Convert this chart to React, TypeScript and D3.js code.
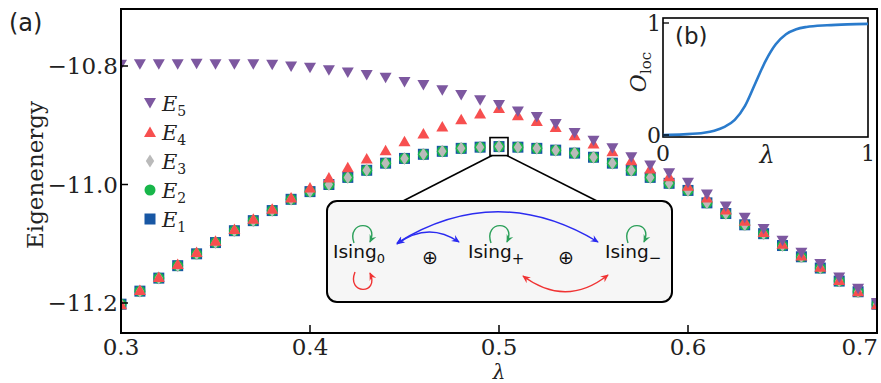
import React from 'react';
import * as d3 from 'd3';

// lambda grid of the spectrum, panel (a)
const lambdas = [
  0.30, 0.31, 0.32, 0.33, 0.34, 0.35, 0.36, 0.37, 0.38, 0.39, 0.40,
  0.41, 0.42, 0.43, 0.44, 0.45, 0.46, 0.47, 0.48, 0.49, 0.50,
  0.51, 0.52, 0.53, 0.54, 0.55, 0.56, 0.57, 0.58, 0.59, 0.60,
  0.61, 0.62, 0.63, 0.64, 0.65, 0.66, 0.67, 0.68, 0.69, 0.70
];

const E5 = [
  -10.798, -10.797, -10.797, -10.797, -10.796, -10.797, -10.797, -10.797, -10.798, -10.801, -10.803,
  -10.807, -10.811, -10.815, -10.820, -10.827, -10.832, -10.841, -10.849, -10.858, -10.866,
  -10.877, -10.886, -10.898, -10.913, -10.926, -10.939, -10.954, -10.968, -10.981, -10.997,
  -11.017, -11.037, -11.056, -11.075, -11.095, -11.115, -11.134, -11.157, -11.176, -11.200
];

const E4 = [
  -11.202, -11.178, -11.156, -11.134, -11.114, -11.095, -11.075, -11.058, -11.041, -11.022, -11.005,
  -10.988, -10.971, -10.956, -10.942, -10.927, -10.914, -10.902, -10.890, -10.880, -10.871,
  -10.883, -10.893, -10.903, -10.917, -10.931, -10.944, -10.959, -10.973, -10.986, -11.002,
  -11.022, -11.042, -11.061, -11.080, -11.100, -11.120, -11.139, -11.161, -11.180, -11.202
];

const E3 = [
  -11.202, -11.180, -11.158, -11.137, -11.117, -11.098, -11.078, -11.061, -11.044, -11.025, -11.012,
  -11.000, -10.988, -10.976, -10.964, -10.956, -10.949, -10.944, -10.939, -10.937, -10.936,
  -10.937, -10.939, -10.942, -10.947, -10.954, -10.964, -10.976, -10.988, -10.998, -11.010,
  -11.031, -11.049, -11.068, -11.083, -11.103, -11.122, -11.141, -11.163, -11.181, -11.202
];
// E1, E2 and E3 are degenerate on this scale
const E2 = E3;
const E1 = E3;

const xTicks = [0.3, 0.4, 0.5, 0.6, 0.7];
const yTicks = [-10.8, -11.0, -11.2];

// panel (b)
const insetLambda = [0, 0.1, 0.2, 0.25, 0.3, 0.35, 0.4, 0.45, 0.5, 0.55, 0.6, 0.65, 0.7, 0.8, 0.9, 1.0];
const insetOloc = [0, 0.006, 0.02, 0.038, 0.072, 0.135, 0.26, 0.46, 0.66, 0.81, 0.9, 0.945, 0.965, 0.98, 0.988, 0.992];

const serif = 'DejaVu Serif';
const sans = 'DejaVu Sans';

const series = [
  {name: '1', values: E1, shape: 'square', color: '#1857a4'},
  {name: '2', values: E2, shape: 'circle', color: '#18b64a'},
  {name: '3', values: E3, shape: 'diamond', color: '#bababa'},
  {name: '4', values: E4, shape: 'up', color: '#f74f4f'},
  {name: '5', values: E5, shape: 'down', color: '#7d58a0'}
];

function Marker({shape, cx, cy, color}) {
  switch (shape) {
    case 'square':
      return <rect x={cx - 5.5} y={cy - 5.5} width={11} height={11} fill={color} />;
    case 'circle':
      return <circle cx={cx} cy={cy} r={5.5} fill={color} />;
    case 'diamond':
      return <polygon points={`${cx},${cy - 6.5} ${cx + 4.2},${cy} ${cx},${cy + 6.5} ${cx - 4.2},${cy}`} fill={color} />;
    case 'up':
      return <polygon points={`${cx},${cy - 5.5} ${cx + 6},${cy + 5} ${cx - 6},${cy + 5}`} fill={color} />;
    default:
      return <polygon points={`${cx},${cy + 5.5} ${cx + 6},${cy - 5} ${cx - 6},${cy - 5}`} fill={color} />;
  }
}

export default function App() {
  const width = 881;
  const height = 383;
  const left = 121, right = 877, top = 9, bottom = 333;

  const x = d3.scaleLinear().domain([0.3, 0.7]).range([left, right]);
  const y = d3.scaleLinear().domain([-10.8, -11.2]).range([66, 303]);
  const fmtX = d3.format('.1f');
  const fmtY = d3.format('.1f');

  // inset
  const ix = d3.scaleLinear().domain([0, 1]).range([663, 868]);
  const iy = d3.scaleLinear().domain([0, 1]).range([135, 23]);
  const insetLine = d3.line<number>()
    .x((d, i) => ix(insetLambda[i]))
    .y(d => iy(d))
    .curve(d3.curveMonotoneX);

  // zoom square around the lambda = 0.5 point
  const zx = x(0.5);
  const zy = y(E3[lambdas.indexOf(0.5)]);

  const legendY = [103, 132, 161, 190, 219];
  const legendOrder = [...series].reverse();

  const green = '#2ca05a';
  const red = '#f03333';
  const blue = '#2b2bf0';

  return (
    <svg width={width} height={height} style={{position: 'absolute', left: 0, top: 0, background: '#fff'}}>
      <defs>
        <clipPath id="plotClip">
          <rect x={left} y={top} width={right - left} height={bottom - top} />
        </clipPath>
        {[['g', green], ['r', red], ['b', blue]].map(([id, c]) => (
          <marker key={id} id={'arr-' + id} viewBox="0 0 10 10" refX="8" refY="5" markerWidth="9" markerHeight="9"
            markerUnits="userSpaceOnUse" orient="auto-start-reverse">
            <path d="M0,1 L9,5 L0,9 L3,5 Z" fill={c} />
          </marker>
        ))}
      </defs>

      {/* panel (a) data */}
      <g clipPath="url(#plotClip)">
        {series.map(s => (
          <g key={s.name}>
            {s.values.map((v, i) => (
              <Marker key={i} shape={s.shape} cx={x(lambdas[i])} cy={y(v)} color={s.color} />
            ))}
          </g>
        ))}
      </g>

      {/* axes frame */}
      <rect x={left} y={top} width={right - left} height={bottom - top} fill="none" stroke="#000" strokeWidth={2} />
      {xTicks.map(t => (
        <g key={t}>
          <line x1={x(t)} x2={x(t)} y1={bottom} y2={bottom - 8} stroke="#000" strokeWidth={1.5} />
          <text x={t === 0.7 ? x(t) + 1 : x(t)} y={355} textAnchor={t === 0.7 ? 'end' : 'middle'}
            fontFamily={serif} fontSize={23} fill="#222">{fmtX(t)}</text>
        </g>
      ))}
      {yTicks.map(t => (
        <g key={t}>
          <line x1={left} x2={left + 7} y1={y(t)} y2={y(t)} stroke="#000" strokeWidth={1.5} />
          <text x={left - 3} y={y(t)} dy="0.36em" textAnchor="end" fontFamily={serif} fontSize={23} fill="#222">{fmtY(t)}</text>
        </g>
      ))}
      <text transform="translate(43,175) rotate(-90)" textAnchor="middle" fontFamily={serif} fontSize={23} fill="#222">Eigenenergy</text>
      <text x={(left + right) / 2} y={378.5} textAnchor="middle" fontFamily={serif} fontStyle="italic" fontSize={20} fill="#222">λ</text>
      <text x={9} y={31} fontFamily={sans} fontSize={24} fill="#222">(a)</text>

      {/* legend */}
      {legendOrder.map((s, i) => (
        <g key={s.name}>
          <Marker shape={s.shape} cx={150} cy={legendY[i]} color={s.color} />
          <text x={162} y={legendY[i] + 8} fontFamily={serif} fontSize={21} fill="#222">
            <tspan fontStyle="italic">E</tspan>
            <tspan fontSize={14} dy={5}>{s.name}</tspan>
          </text>
        </g>
      ))}

      {/* zoom box and diagram */}
      <rect x={zx - 9} y={zy - 9} width={18} height={18} fill="none" stroke="#000" strokeWidth={1.6} />
      <line x1={zx - 7} y1={zy + 9} x2={403} y2={201} stroke="#000" strokeWidth={1.6} />
      <line x1={zx + 8} y1={zy + 9} x2={597} y2={201} stroke="#000" strokeWidth={1.6} />
      <rect x={327} y={201} width={345} height={101} rx={10} fill="#f6f6f6" stroke="#000" strokeWidth={2} />

      <text x={333} y={258} fontFamily={sans} fontSize={18.5} fill="#111">Ising<tspan fontSize={13} dy={5}>0</tspan></text>
      <text x={468} y={258} fontFamily={sans} fontSize={18.5} fill="#111">Ising<tspan fontSize={15} dy={6}>+</tspan></text>
      <text x={605} y={258} fontFamily={sans} fontSize={18.5} fill="#111">Ising<tspan fontSize={15} dy={5}>−</tspan></text>
      <text x={430} y={257} textAnchor="middle" dominantBaseline="central" fontFamily={sans} fontSize={19} fill="#111">⊕</text>
      <text x={566} y={257} textAnchor="middle" dominantBaseline="central" fontFamily={sans} fontSize={19} fill="#111">⊕</text>

      <g fill="none" strokeWidth={1.4}>
        <path d="M354,243 C346,220 380,220 370,242" stroke={green} markerEnd="url(#arr-g)" />
        <path d="M491,243 C483,220 517,220 507,242" stroke={green} markerEnd="url(#arr-g)" />
        <path d="M628,243 C620,220 654,220 644,242" stroke={green} markerEnd="url(#arr-g)" />
        <path d="M355,272 C346,295 380,295 370,273" stroke={red} markerEnd="url(#arr-r)" />
        <path d="M397,244 Q428,221 459,242" stroke={blue} markerStart="url(#arr-b)" markerEnd="url(#arr-b)" />
        <path d="M397,243 Q497,181 598,242" stroke={blue} markerStart="url(#arr-b)" markerEnd="url(#arr-b)" />
        <path d="M523,276 Q566,308 608,275" stroke={red} markerStart="url(#arr-r)" markerEnd="url(#arr-r)" />
      </g>

      {/* panel (b) inset */}
      <rect x={663} y={18} width={205} height={119} fill="#fff" stroke="#000" strokeWidth={1.6} />
      <path d={insetLine(insetOloc) || ''} fill="none" stroke="#2a7bcc" strokeWidth={2.6} />
      {[0, 1].map(t => (
        <g key={t}>
          <line x1={663} x2={669} y1={iy(t)} y2={iy(t)} stroke="#000" strokeWidth={1.3} />
          <text x={661} y={iy(t)} dy="0.36em" textAnchor="end" fontFamily={serif} fontSize={22} fill="#222">{t}</text>
          <text x={ix(t)} y={161} textAnchor="middle" fontFamily={serif} fontSize={22} fill="#222">{t}</text>
        </g>
      ))}
      <text x={767} y={163} textAnchor="middle" fontFamily={serif} fontStyle="italic" fontSize={24} fill="#222">λ</text>
      <text x={675} y={44} fontFamily={sans} fontSize={23} fill="#222">(b)</text>
      <text transform="translate(646,72) rotate(-90)" textAnchor="middle" fontFamily={serif} fontSize={22} fill="#222">
        <tspan fontStyle="italic">O</tspan>
        <tspan fontSize={15} dy={5}>loc</tspan>
      </text>
    </svg>
  );
}
